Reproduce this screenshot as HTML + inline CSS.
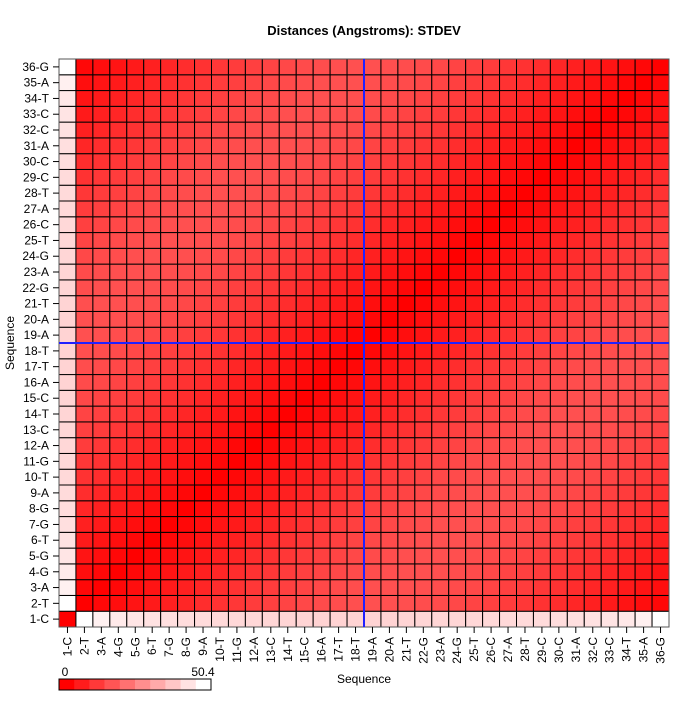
<!DOCTYPE html>
<html><head><meta charset="utf-8"><style>
html,body{margin:0;padding:0;background:#fff;}
svg text{font-family:"Liberation Sans",Arial,sans-serif;}
</style></head><body>
<svg id="chart" width="700" height="700" viewBox="0 0 700 700" xmlns="http://www.w3.org/2000/svg">
<rect x="0" y="0" width="700" height="700" fill="#fff"/>
<text x="364" y="35" text-anchor="middle" font-size="13" font-weight="bold">Distances (Angstroms):  STDEV</text>
<text x="364" y="683" text-anchor="middle" font-size="12">Sequence</text>
<text x="14" y="343" text-anchor="middle" font-size="12" transform="rotate(-90 14 343)">Sequence</text>
<g id="cells"></g>
<g id="axes"></g>
<g id="legend"></g>
</svg>
<script>
const labels = ["1-C","2-T","3-A","4-G","5-G","6-T","7-G","8-G","9-A","10-T","11-G","12-A","13-C","14-T","15-C","16-A","17-T","18-T","19-A","20-A","21-T","22-G","23-A","24-G","25-T","26-C","27-A","28-T","29-C","30-C","31-A","32-C","33-C","34-T","35-A","36-G"];
const scaleMax = 50.4;
const legendTicks = ["0","50.4"];
const markerIndex = 18;
// values[rowIndex][colIndex], row 0 = 1-C (bottom)
const values = [
[0,50.4,47.6,46.2,45.2,44.6,44.0,43.6,43.2,42.9,42.6,42.4,42.2,42.0,41.9,41.8,41.8,41.8,41.8,41.8,41.9,42.0,42.1,42.2,42.4,42.6,42.8,43.0,43.3,43.6,44.0,44.4,45.0,45.8,47.4,50.4],
[50.4,0,1.5,2.8,4,5.2,6.4,7.6,8.8,9.8,10.8,11.8,12.7,13.5,14.2,14.8,15.3,15.7,15.9,15.9,15.7,15.3,14.8,14.2,13.5,12.7,11.8,10.8,9.8,8.8,7.6,6.4,5.2,4,2.8,1.5],
[47.6,1.5,0,1.5,2.8,4,5.2,6.4,7.6,8.8,9.8,10.8,11.8,12.7,13.5,14.2,14.8,15.3,15.7,15.9,15.9,15.7,15.3,14.8,14.2,13.5,12.7,11.8,10.8,9.8,8.8,7.6,6.4,5.2,4,2.8],
[46.2,2.8,1.5,0,1.5,2.8,4,5.2,6.4,7.6,8.8,9.8,10.8,11.8,12.7,13.5,14.2,14.8,15.3,15.7,15.9,15.9,15.7,15.3,14.8,14.2,13.5,12.7,11.8,10.8,9.8,8.8,7.6,6.4,5.2,4],
[45.2,4,2.8,1.5,0,1.5,2.8,4,5.2,6.4,7.6,8.8,9.8,10.8,11.8,12.7,13.5,14.2,14.8,15.3,15.7,15.9,15.9,15.7,15.3,14.8,14.2,13.5,12.7,11.8,10.8,9.8,8.8,7.6,6.4,5.2],
[44.6,5.2,4,2.8,1.5,0,1.5,2.8,4,5.2,6.4,7.6,8.8,9.8,10.8,11.8,12.7,13.5,14.2,14.8,15.3,15.7,15.9,15.9,15.7,15.3,14.8,14.2,13.5,12.7,11.8,10.8,9.8,8.8,7.6,6.4],
[44.0,6.4,5.2,4,2.8,1.5,0,1.5,2.8,4,5.2,6.4,7.6,8.8,9.8,10.8,11.8,12.7,13.5,14.2,14.8,15.3,15.7,15.9,15.9,15.7,15.3,14.8,14.2,13.5,12.7,11.8,10.8,9.8,8.8,7.6],
[43.6,7.6,6.4,5.2,4,2.8,1.5,0,1.5,2.8,4,5.2,6.4,7.6,8.8,9.8,10.8,11.8,12.7,13.5,14.2,14.8,15.3,15.7,15.9,15.9,15.7,15.3,14.8,14.2,13.5,12.7,11.8,10.8,9.8,8.8],
[43.2,8.8,7.6,6.4,5.2,4,2.8,1.5,0,1.5,2.8,4,5.2,6.4,7.6,8.8,9.8,10.8,11.8,12.7,13.5,14.2,14.8,15.3,15.7,15.9,15.9,15.7,15.3,14.8,14.2,13.5,12.7,11.8,10.8,9.8],
[42.9,9.8,8.8,7.6,6.4,5.2,4,2.8,1.5,0,1.5,2.8,4,5.2,6.4,7.6,8.8,9.8,10.8,11.8,12.7,13.5,14.2,14.8,15.3,15.7,15.9,15.9,15.7,15.3,14.8,14.2,13.5,12.7,11.8,10.8],
[42.6,10.8,9.8,8.8,7.6,6.4,5.2,4,2.8,1.5,0,1.5,2.8,4,5.2,6.4,7.6,8.8,9.8,10.8,11.8,12.7,13.5,14.2,14.8,15.3,15.7,15.9,15.9,15.7,15.3,14.8,14.2,13.5,12.7,11.8],
[42.4,11.8,10.8,9.8,8.8,7.6,6.4,5.2,4,2.8,1.5,0,1.5,2.8,4,5.2,6.4,7.6,8.8,9.8,10.8,11.8,12.7,13.5,14.2,14.8,15.3,15.7,15.9,15.9,15.7,15.3,14.8,14.2,13.5,12.7],
[42.2,12.7,11.8,10.8,9.8,8.8,7.6,6.4,5.2,4,2.8,1.5,0,1.5,2.8,4,5.2,6.4,7.6,8.8,9.8,10.8,11.8,12.7,13.5,14.2,14.8,15.3,15.7,15.9,15.9,15.7,15.3,14.8,14.2,13.5],
[42.0,13.5,12.7,11.8,10.8,9.8,8.8,7.6,6.4,5.2,4,2.8,1.5,0,1.5,2.8,4,5.2,6.4,7.6,8.8,9.8,10.8,11.8,12.7,13.5,14.2,14.8,15.3,15.7,15.9,15.9,15.7,15.3,14.8,14.2],
[41.9,14.2,13.5,12.7,11.8,10.8,9.8,8.8,7.6,6.4,5.2,4,2.8,1.5,0,1.5,2.8,4,5.2,6.4,7.6,8.8,9.8,10.8,11.8,12.7,13.5,14.2,14.8,15.3,15.7,15.9,15.9,15.7,15.3,14.8],
[41.8,14.8,14.2,13.5,12.7,11.8,10.8,9.8,8.8,7.6,6.4,5.2,4,2.8,1.5,0,1.5,2.8,4,5.2,6.4,7.6,8.8,9.8,10.8,11.8,12.7,13.5,14.2,14.8,15.3,15.7,15.9,15.9,15.7,15.3],
[41.8,15.3,14.8,14.2,13.5,12.7,11.8,10.8,9.8,8.8,7.6,6.4,5.2,4,2.8,1.5,0,1.5,2.8,4,5.2,6.4,7.6,8.8,9.8,10.8,11.8,12.7,13.5,14.2,14.8,15.3,15.7,15.9,15.9,15.7],
[41.8,15.7,15.3,14.8,14.2,13.5,12.7,11.8,10.8,9.8,8.8,7.6,6.4,5.2,4,2.8,1.5,0,1.5,2.8,4,5.2,6.4,7.6,8.8,9.8,10.8,11.8,12.7,13.5,14.2,14.8,15.3,15.7,15.9,15.9],
[41.8,15.9,15.7,15.3,14.8,14.2,13.5,12.7,11.8,10.8,9.8,8.8,7.6,6.4,5.2,4,2.8,1.5,0,1.5,2.8,4,5.2,6.4,7.6,8.8,9.8,10.8,11.8,12.7,13.5,14.2,14.8,15.3,15.7,15.9],
[41.8,15.9,15.9,15.7,15.3,14.8,14.2,13.5,12.7,11.8,10.8,9.8,8.8,7.6,6.4,5.2,4,2.8,1.5,0,1.5,2.8,4,5.2,6.4,7.6,8.8,9.8,10.8,11.8,12.7,13.5,14.2,14.8,15.3,15.7],
[41.9,15.7,15.9,15.9,15.7,15.3,14.8,14.2,13.5,12.7,11.8,10.8,9.8,8.8,7.6,6.4,5.2,4,2.8,1.5,0,1.5,2.8,4,5.2,6.4,7.6,8.8,9.8,10.8,11.8,12.7,13.5,14.2,14.8,15.3],
[42.0,15.3,15.7,15.9,15.9,15.7,15.3,14.8,14.2,13.5,12.7,11.8,10.8,9.8,8.8,7.6,6.4,5.2,4,2.8,1.5,0,1.5,2.8,4,5.2,6.4,7.6,8.8,9.8,10.8,11.8,12.7,13.5,14.2,14.8],
[42.1,14.8,15.3,15.7,15.9,15.9,15.7,15.3,14.8,14.2,13.5,12.7,11.8,10.8,9.8,8.8,7.6,6.4,5.2,4,2.8,1.5,0,1.5,2.8,4,5.2,6.4,7.6,8.8,9.8,10.8,11.8,12.7,13.5,14.2],
[42.2,14.2,14.8,15.3,15.7,15.9,15.9,15.7,15.3,14.8,14.2,13.5,12.7,11.8,10.8,9.8,8.8,7.6,6.4,5.2,4,2.8,1.5,0,1.5,2.8,4,5.2,6.4,7.6,8.8,9.8,10.8,11.8,12.7,13.5],
[42.4,13.5,14.2,14.8,15.3,15.7,15.9,15.9,15.7,15.3,14.8,14.2,13.5,12.7,11.8,10.8,9.8,8.8,7.6,6.4,5.2,4,2.8,1.5,0,1.5,2.8,4,5.2,6.4,7.6,8.8,9.8,10.8,11.8,12.7],
[42.6,12.7,13.5,14.2,14.8,15.3,15.7,15.9,15.9,15.7,15.3,14.8,14.2,13.5,12.7,11.8,10.8,9.8,8.8,7.6,6.4,5.2,4,2.8,1.5,0,1.5,2.8,4,5.2,6.4,7.6,8.8,9.8,10.8,11.8],
[42.8,11.8,12.7,13.5,14.2,14.8,15.3,15.7,15.9,15.9,15.7,15.3,14.8,14.2,13.5,12.7,11.8,10.8,9.8,8.8,7.6,6.4,5.2,4,2.8,1.5,0,1.5,2.8,4,5.2,6.4,7.6,8.8,9.8,10.8],
[43.0,10.8,11.8,12.7,13.5,14.2,14.8,15.3,15.7,15.9,15.9,15.7,15.3,14.8,14.2,13.5,12.7,11.8,10.8,9.8,8.8,7.6,6.4,5.2,4,2.8,1.5,0,1.5,2.8,4,5.2,6.4,7.6,8.8,9.8],
[43.3,9.8,10.8,11.8,12.7,13.5,14.2,14.8,15.3,15.7,15.9,15.9,15.7,15.3,14.8,14.2,13.5,12.7,11.8,10.8,9.8,8.8,7.6,6.4,5.2,4,2.8,1.5,0,1.5,2.8,4,5.2,6.4,7.6,8.8],
[43.6,8.8,9.8,10.8,11.8,12.7,13.5,14.2,14.8,15.3,15.7,15.9,15.9,15.7,15.3,14.8,14.2,13.5,12.7,11.8,10.8,9.8,8.8,7.6,6.4,5.2,4,2.8,1.5,0,1.5,2.8,4,5.2,6.4,7.6],
[44.0,7.6,8.8,9.8,10.8,11.8,12.7,13.5,14.2,14.8,15.3,15.7,15.9,15.9,15.7,15.3,14.8,14.2,13.5,12.7,11.8,10.8,9.8,8.8,7.6,6.4,5.2,4,2.8,1.5,0,1.5,2.8,4,5.2,6.4],
[44.4,6.4,7.6,8.8,9.8,10.8,11.8,12.7,13.5,14.2,14.8,15.3,15.7,15.9,15.9,15.7,15.3,14.8,14.2,13.5,12.7,11.8,10.8,9.8,8.8,7.6,6.4,5.2,4,2.8,1.5,0,1.5,2.8,4,5.2],
[45.0,5.2,6.4,7.6,8.8,9.8,10.8,11.8,12.7,13.5,14.2,14.8,15.3,15.7,15.9,15.9,15.7,15.3,14.8,14.2,13.5,12.7,11.8,10.8,9.8,8.8,7.6,6.4,5.2,4,2.8,1.5,0,1.5,2.8,4],
[45.8,4,5.2,6.4,7.6,8.8,9.8,10.8,11.8,12.7,13.5,14.2,14.8,15.3,15.7,15.9,15.9,15.7,15.3,14.8,14.2,13.5,12.7,11.8,10.8,9.8,8.8,7.6,6.4,5.2,4,2.8,1.5,0,1.5,2.8],
[47.4,2.8,4,5.2,6.4,7.6,8.8,9.8,10.8,11.8,12.7,13.5,14.2,14.8,15.3,15.7,15.9,15.9,15.7,15.3,14.8,14.2,13.5,12.7,11.8,10.8,9.8,8.8,7.6,6.4,5.2,4,2.8,1.5,0,1.5],
[50.4,1.5,2.8,4,5.2,6.4,7.6,8.8,9.8,10.8,11.8,12.7,13.5,14.2,14.8,15.3,15.7,15.9,15.9,15.7,15.3,14.8,14.2,13.5,12.7,11.8,10.8,9.8,8.8,7.6,6.4,5.2,4,2.8,1.5,0]
];

const NS = "http://www.w3.org/2000/svg";
const X0 = 59, X1 = 669, Y0 = 59, Y1 = 627;
const n = labels.length;
const cw = (X1 - X0) / n, ch = (Y1 - Y0) / n;
function xPos(i){ return X0 + i * cw; }
function yPos(i){ return Y1 - (i + 1) * ch; }
function color(v){
  const t = Math.max(0, Math.min(1, v / scaleMax));
  const g = Math.round(255 * t);
  return "rgb(255," + g + "," + g + ")";
}
function mk(tag, attrs, parent){
  const el = document.createElementNS(NS, tag);
  for (const k in attrs) el.setAttribute(k, attrs[k]);
  parent.appendChild(el);
  return el;
}
const cells = document.getElementById("cells");
for (let r = 0; r < n; r++){
  for (let c = 0; c < n; c++){
    const el = mk("rect", {x: xPos(c), y: yPos(r), width: cw, height: ch, fill: color(values[r][c]), stroke: "#000", "stroke-width": 1}, cells);
    
    
  }
}
const axes = document.getElementById("axes");
const border = mk("rect", {x: X0, y: Y0, width: X1 - X0, height: Y1 - Y0, fill: "none", stroke: "#555", "stroke-width": 1}, axes);


const vline = mk("line", {x1: xPos(markerIndex), y1: Y0, x2: xPos(markerIndex), y2: Y1, stroke: "#2020ff", "stroke-width": 2}, axes);


const hline = mk("line", {x1: X0, y1: Y1 - markerIndex * ch, x2: X1, y2: Y1 - markerIndex * ch, stroke: "#2020ff", "stroke-width": 2}, axes);


for (let i = 0; i < n; i++){
  const cx = xPos(i) + cw / 2, cy = yPos(i) + ch / 2;
  const tx = mk("line", {x1: cx, y1: Y1, x2: cx, y2: Y1 + 6, stroke: "#000"}, axes);
  
  
  const lx = mk("text", {x: cx + 4, y: Y1 + 10, "font-size": 12, "text-anchor": "end", transform: "rotate(-90 " + (cx + 4) + " " + (Y1 + 10) + ")"}, axes);
  lx.textContent = labels[i];
  
  
  const ty = mk("line", {x1: X0 - 6, y1: cy, x2: X0, y2: cy, stroke: "#000"}, axes);
  
  
  const ly = mk("text", {x: X0 - 10, y: cy + 4, "font-size": 12, "text-anchor": "end"}, axes);
  ly.textContent = labels[i];
  
  
}
const legend = document.getElementById("legend");
const LX = 59, LW = 152, LY = 679, LH = 11, steps = 10;
for (let k = 0; k < steps; k++){
  const el = mk("rect", {x: LX + k * LW / steps, y: LY, width: LW / steps + 0.3, height: LH, fill: color(scaleMax * k / (steps - 1))}, legend);
  
  
}
const lb = mk("rect", {x: LX, y: LY, width: LW, height: LH, fill: "none", stroke: "#000"}, legend);


const l0 = mk("text", {x: LX + 6, y: LY - 3, "font-size": 12, "text-anchor": "middle"}, legend);
l0.textContent = legendTicks[0];


const l1 = mk("text", {x: LX + LW - 8, y: LY - 3, "font-size": 12, "text-anchor": "middle"}, legend);
l1.textContent = legendTicks[1];


</script>
</body></html>
